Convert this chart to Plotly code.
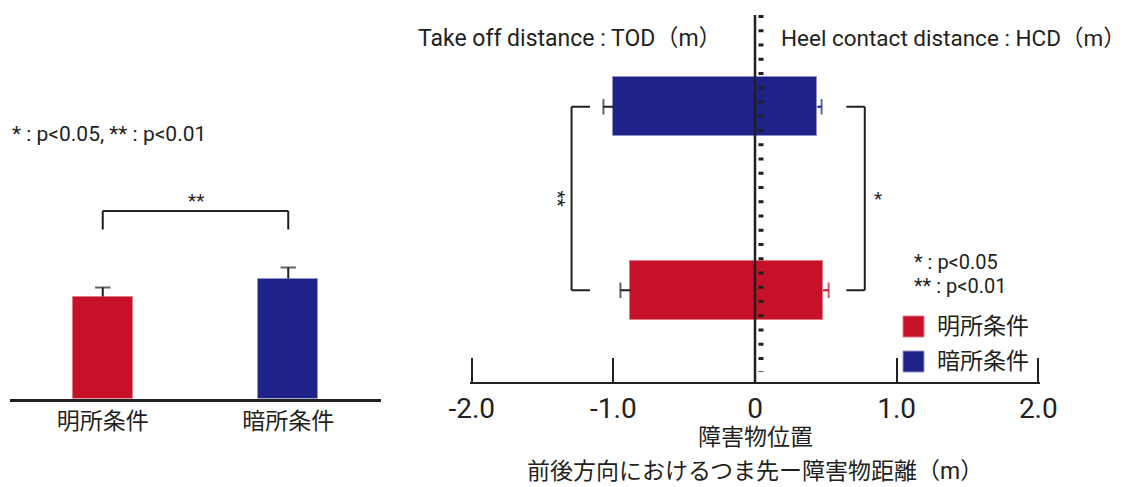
import plotly.graph_objects as go

W, H = 1131, 487

# ---- data -------------------------------------------------------------
conditions = ["明所条件", "暗所条件"]
bar_colors = ["#C61128", "#1F2287"]
edge_colors = ["#E07A88", "#8F92CC"]

# left panel: mean and SD per lighting condition
left_mean = [1.02, 1.20]
left_sd = [0.09, 0.11]

# right panel: toe–obstacle distances (m)
tod_mean = [0.88, 1.00]   # take off distance, before the obstacle
tod_sd = [0.07, 0.07]
hcd_mean = [0.48, 0.44]   # heel contact distance, after the obstacle
hcd_sd = [0.04, 0.03]

x_ticks = [-2.0, -1.0, 0.0, 1.0, 2.0]
x_tick_text = ["-2.0", "-1.0", "0", "1.0", "2.0"]

INK = "#231F20"
FONT = "Roboto, 'Noto Sans CJK JP', sans-serif"


def px(x):
    return x / W


def py(y):
    return 1 - y / H


def note(x, y, text, size, xanchor="center", **kw):
    return dict(x=x, y=y, text=text, showarrow=False, xanchor=xanchor, yanchor="middle",
                borderpad=0, font=dict(size=size, color=INK), **kw)


fig = go.Figure()

# ---- left panel: vertical bars ----------------------------------------
fig.add_trace(go.Bar(
    x=conditions, y=left_mean, width=0.325,
    marker=dict(color=bar_colors, line=dict(color=edge_colors, width=1)),
    xaxis="x", yaxis="y", showlegend=False, hoverinfo="skip",
))
ex, ey, es = [], [], []
for c, m, s in zip(conditions, left_mean, left_sd):
    ex += [c, c, None]
    ey += [m, m + s, None]
    es += [0, 11, 0]
fig.add_trace(go.Scatter(
    x=ex, y=ey, mode="lines+markers", xaxis="x", yaxis="y",
    line=dict(color=INK, width=2),
    marker=dict(symbol="line-ew", size=es, line=dict(color=INK, width=2)),
    showlegend=False, hoverinfo="skip",
))

# ---- right panel: horizontal bars spanning -TOD .. +HCD ---------------
fig.add_trace(go.Bar(
    y=conditions, x=[-v for v in tod_mean], orientation="h", width=0.32,
    marker=dict(color=bar_colors, line=dict(color=edge_colors, width=1)),
    xaxis="x2", yaxis="y2", showlegend=False, hoverinfo="skip",
))
fig.add_trace(go.Bar(
    y=conditions, x=hcd_mean, orientation="h", width=0.32,
    marker=dict(color=bar_colors, line=dict(color=edge_colors, width=1)),
    xaxis="x2", yaxis="y2", showlegend=False, hoverinfo="skip",
))

# TOD error bars (black, pointing left)
ex, ey, es = [], [], []
for c, m, s in zip(conditions, tod_mean, tod_sd):
    ex += [-m, -(m + s), None]
    ey += [c, c, None]
    es += [0, 11, 0]
fig.add_trace(go.Scatter(
    x=ex, y=ey, mode="lines+markers", xaxis="x2", yaxis="y2",
    line=dict(color=INK, width=2),
    marker=dict(symbol="line-ns", size=es, line=dict(color=INK, width=2)),
    showlegend=False, hoverinfo="skip",
))
# HCD error bars (bar colour, pointing right)
for c, m, s, col in zip(conditions, hcd_mean, hcd_sd, bar_colors):
    fig.add_trace(go.Scatter(
        x=[m, m + s], y=[c, c], mode="lines+markers", xaxis="x2", yaxis="y2",
        line=dict(color=col, width=2),
        marker=dict(symbol="line-ns", size=[0, 11], line=dict(color=col, width=2)),
        showlegend=False, hoverinfo="skip",
    ))

shapes = []
annotations = []

# centre axis at 0 with its small dash ticks
shapes.append(dict(type="line", xref="x2", yref="y2 domain", x0=0, x1=0, y0=0, y1=1,
                   line=dict(color=INK, width=2.5), layer="above"))
shapes.append(dict(type="line", xref="x2", xsizemode="pixel", xanchor=0, x0=6, x1=6,
                   yref="y2 domain", y0=1, y1=0.027,
                   line=dict(color=INK, width=5, dash="3px,11.25px"), layer="above"))


# significance brackets
def bracket(xref, yref, pts):
    for (x0, y0), (x1, y1) in zip(pts[:-1], pts[1:]):
        shapes.append(dict(type="line", xref=xref, yref=yref, x0=x0, y0=y0, x1=x1, y1=y1,
                           line=dict(color=INK, width=2)))


bracket("x", "y", [(0, 1.69), (0, 1.875), (1, 1.875), (1, 1.69)])
bracket("x2", "y2", [(-1.165, 0), (-1.295, 0), (-1.295, 1), (-1.165, 1)])
bracket("x2", "y2", [(0.645, 0), (0.775, 0), (0.775, 1), (0.645, 1)])

annotations.append(note(0.5, 1.985, "**", 19, xref="x", yref="y"))
annotations.append(note(-1.39, 0.5, "**", 19, xref="x2", yref="y2", textangle=90))
annotations.append(note(0.87, 0.5, "*", 19, xref="x2", yref="y2"))

# notes and titles
annotations.append(note(px(11), py(134), "* : p<0.05, ** : p<0.01", 21, "left",
                        xref="paper", yref="paper"))
annotations.append(note(px(723), py(38), "Take off distance : TOD（m）", 23, "right",
                        xref="paper", yref="paper"))
annotations.append(note(px(780), py(38), "Heel contact distance : HCD（m）", 22.5, "left",
                        xref="paper", yref="paper"))
annotations.append(note(px(913), py(262), "* : p<0.05", 20, "left",
                        xref="paper", yref="paper"))
annotations.append(note(px(913), py(286), "** : p<0.01", 20, "left",
                        xref="paper", yref="paper"))
annotations.append(note(0, py(437), "障害物位置", 23, xref="x2", yref="paper"))
annotations.append(note(0, py(471), "前後方向におけるつま先ー障害物距離（m）", 23,
                        xref="x2", yref="paper"))

# legend swatches
for name, col, edge, top in zip(conditions, bar_colors, edge_colors, [316, 351]):
    shapes.append(dict(type="rect", xref="paper", yref="paper",
                       x0=px(903), x1=px(924), y0=py(top), y1=py(top + 21),
                       fillcolor=col, line=dict(color=edge, width=1)))
    annotations.append(note(px(936), py(top + 10.5), name, 23, "left",
                            xref="paper", yref="paper"))

fig.update_layout(
    width=W, height=H, margin=dict(l=0, r=0, t=0, b=0, autoexpand=False),
    paper_bgcolor="white", plot_bgcolor="rgba(0,0,0,0)",
    font=dict(family=FONT, color=INK),
    barmode="relative", bargap=0,
    shapes=shapes, annotations=annotations,
    xaxis=dict(domain=[px(10), px(381)], range=[-0.5, 1.5], type="category",
               showline=True, linecolor=INK, linewidth=2.5, ticks="",
               tickfont=dict(size=23, color=INK), showgrid=False, zeroline=False,
               automargin=False, fixedrange=True),
    yaxis=dict(domain=[py(398.5), py(110)], range=[0, 2.885], visible=False,
               automargin=False, fixedrange=True),
    xaxis2=dict(domain=[px(470), px(1040)], range=[-2.012, 2.012], anchor="y2",
                tickvals=x_ticks, ticktext=x_tick_text, ticks="inside", ticklen=24,
                tickwidth=2, tickcolor=INK, showline=True, linecolor=INK, linewidth=2,
                tickfont=dict(size=28, color=INK), showgrid=False, zeroline=False,
                automargin=False, fixedrange=True),
    yaxis2=dict(domain=[py(382), py(15)], range=[-0.5, 1.5], anchor="x2",
                type="category", categoryorder="array", categoryarray=conditions,
                visible=False, automargin=False, fixedrange=True),
)

fig.write_html("out.html")
